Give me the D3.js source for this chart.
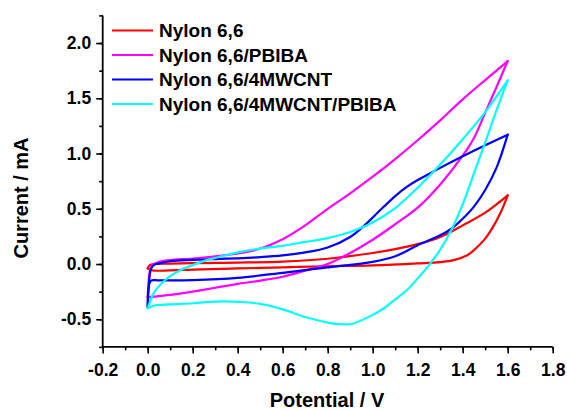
<!DOCTYPE html>
<html>
<head>
<meta charset="utf-8">
<script src="https://cdn.jsdelivr.net/npm/d3@7"></script>
<style>
  html, body { margin: 0; padding: 0; background: #fff; }
  svg { display: block; }
  text { font-family: "Liberation Sans", Arial, sans-serif; font-weight: bold; fill: #000; }
</style>
</head>
<body>
<svg id="chart" width="567" height="410"></svg>
<script>
// ---- Data (Potential V, Current mA) ----
const seriesNames = ["Nylon 6,6", "Nylon 6,6/PBIBA", "Nylon 6,6/4MWCNT", "Nylon 6,6/4MWCNT/PBIBA"];
const seriesColors = ["#ff0000", "#ff00ff", "#0000ff", "#00ffff"];

const xTicks = [-0.2, 0.0, 0.2, 0.4, 0.6, 0.8, 1.0, 1.2, 1.4, 1.6, 1.8];
const yTicks = [-0.5, 0.0, 0.5, 1.0, 1.5, 2.0];

// Nylon 6,6
const nylonUpper = [[0.0,-0.04],[0.008,-0.012],[0.035,0.0],[0.1,0.004],[0.2,0.008],[0.4,0.013],[0.6,0.022],[0.8,0.048],[1.0,0.1],[1.1,0.135],[1.2,0.18],[1.3,0.245],[1.4,0.35],[1.5,0.465],[1.6,0.622]];
const nylonLower = [[0.0,-0.04],[0.02,-0.058],[0.1,-0.057],[0.2,-0.05],[0.4,-0.04],[0.6,-0.03],[0.8,-0.02],[1.0,-0.012],[1.2,0.006],[1.3,0.018],[1.36,0.035],[1.42,0.08],[1.45,0.126],[1.5,0.23],[1.53,0.32],[1.566,0.455],[1.6,0.622]];

// Nylon 6,6/PBIBA
const pbibaUpper = [[0.0,-0.30],[0.003,-0.2],[0.008,-0.08],[0.02,-0.01],[0.05,0.02],[0.1,0.035],[0.2,0.05],[0.3,0.07],[0.4,0.095],[0.5,0.14],[0.6,0.225],[0.7,0.35],[0.8,0.5],[0.9,0.64],[1.0,0.79],[1.1,0.95],[1.2,1.12],[1.3,1.3],[1.4,1.49],[1.5,1.665],[1.6,1.837]];
const pbibaLower = [[0.0,-0.30],[0.03,-0.295],[0.1,-0.28],[0.2,-0.25],[0.3,-0.215],[0.4,-0.18],[0.45,-0.165],[0.5,-0.15],[0.6,-0.115],[0.7,-0.06],[0.8,0.0],[0.9,0.1],[1.0,0.22],[1.1,0.36],[1.2,0.51],[1.3,0.72],[1.4,0.98],[1.45,1.14],[1.5,1.37],[1.55,1.6],[1.6,1.837]];

// Nylon 6,6/4MWCNT
const mwcntUpper = [[0.0,-0.39],[0.003,-0.25],[0.008,-0.12],[0.015,-0.04],[0.03,-0.005],[0.06,0.01],[0.1,0.025],[0.2,0.037],[0.3,0.045],[0.4,0.052],[0.5,0.062],[0.6,0.078],[0.7,0.105],[0.8,0.15],[0.9,0.245],[0.95,0.325],[1.0,0.42],[1.05,0.52],[1.1,0.615],[1.15,0.695],[1.2,0.76],[1.25,0.815],[1.3,0.87],[1.4,0.975],[1.5,1.075],[1.6,1.171]];
const mwcntLower = [[0.0,-0.39],[0.005,-0.2],[0.015,-0.15],[0.05,-0.148],[0.2,-0.145],[0.4,-0.125],[0.6,-0.08],[0.8,-0.03],[1.0,0.02],[1.1,0.07],[1.2,0.17],[1.3,0.26],[1.35,0.32],[1.4,0.41],[1.45,0.52],[1.5,0.67],[1.55,0.87],[1.6,1.171]];

// Nylon 6,6/4MWCNT/PBIBA
const mwcntPbibaUpper = [[0.0,-0.40],[0.01,-0.34],[0.025,-0.27],[0.05,-0.2],[0.077,-0.147],[0.1,-0.11],[0.144,-0.056],[0.2,-0.01],[0.262,0.035],[0.3,0.055],[0.4,0.105],[0.5,0.14],[0.6,0.165],[0.7,0.2],[0.8,0.235],[0.9,0.29],[1.0,0.375],[1.1,0.505],[1.15,0.595],[1.2,0.69],[1.3,0.9],[1.4,1.13],[1.5,1.375],[1.6,1.662]];
const mwcntPbibaLower = [[0.0,-0.40],[0.03,-0.375],[0.1,-0.365],[0.2,-0.355],[0.3,-0.34],[0.35,-0.338],[0.4,-0.342],[0.5,-0.36],[0.6,-0.41],[0.7,-0.48],[0.8,-0.53],[0.87,-0.545],[0.91,-0.54],[1.0,-0.46],[1.05,-0.4],[1.1,-0.32],[1.15,-0.24],[1.2,-0.13],[1.25,-0.01],[1.3,0.13],[1.35,0.31],[1.4,0.54],[1.45,0.82],[1.5,1.1],[1.55,1.39],[1.6,1.662]];

const seriesBranches = [
  [nylonUpper, nylonLower],
  [pbibaUpper, pbibaLower],
  [mwcntUpper, mwcntLower],
  [mwcntPbibaUpper, mwcntPbibaLower]
];

// ---- Layout ----
const svg = d3.select("#chart");
const x = d3.scaleLinear().domain([-0.2, 1.8]).range([102.7, 552.7]);
const y = d3.scaleLinear().domain([-0.75, 2.25]).range([346.9, 15.4]);

const fmt = d => d.toFixed(1);

// curves
const line = d3.line().x(d => x(d[0])).y(d => y(d[1])).curve(d3.curveCatmullRom.alpha(0.5));
const plot = svg.append("g");
seriesBranches.forEach((branches, i) => {
  branches.forEach(b => {
    plot.append("path")
      .attr("d", line(b))
      .attr("fill", "none")
      .attr("stroke", seriesColors[i])
      .attr("stroke-width", 2.2)
      .attr("stroke-linejoin", "round")
      .attr("stroke-linecap", "round");
  });
});

// axes
const xAxisY = y(-0.75);
const yAxisX = x(-0.2);

const xMinor = d3.range(-0.2, 1.8001, 0.1);
const yMinor = d3.range(-0.75, 2.2501, 0.25);

const gxMinor = svg.append("g").attr("transform", `translate(0,${xAxisY})`)
  .call(d3.axisBottom(x).tickValues(xMinor).tickSize(3.5).tickFormat(""));
const gyMinor = svg.append("g").attr("transform", `translate(${yAxisX},0)`)
  .call(d3.axisLeft(y).tickValues(yMinor).tickSize(3.5).tickFormat(""));

const gx = svg.append("g").attr("transform", `translate(0,${xAxisY})`)
  .call(d3.axisBottom(x).tickValues(xTicks).tickSize(6.5).tickPadding(10).tickFormat(fmt));
const gy = svg.append("g").attr("transform", `translate(${yAxisX},0)`)
  .call(d3.axisLeft(y).tickValues(yTicks).tickSize(6.5).tickPadding(5).tickFormat(fmt));

[gx, gy, gxMinor, gyMinor].forEach(g => {
  g.select(".domain").attr("stroke", "#000").attr("stroke-width", 1.8);
  g.selectAll(".tick line").attr("stroke", "#000").attr("stroke-width", 1.6);
  g.selectAll(".tick text")
    .style("font-family", '"Liberation Sans", Arial, sans-serif')
    .style("font-weight", "bold")
    .style("font-size", "17.5px")
    .attr("fill", "#000");
});
gx.select(".domain").attr("d", `M${x(-0.2)},0H${x(1.8)}`);
gxMinor.select(".domain").remove();
gy.select(".domain").attr("d", `M0,${y(2.25)}V${y(-0.75)}`);
gyMinor.select(".domain").remove();

// axis titles
svg.append("text")
  .attr("x", 327).attr("y", 407)
  .attr("text-anchor", "middle")
  .style("font-size", "20px")
  .text("Potential / V");

svg.append("text")
  .attr("transform", "translate(28,198) rotate(-90)")
  .attr("text-anchor", "middle")
  .style("font-size", "20px")
  .text("Current / mA");

// legend
const legend = svg.append("g");
seriesNames.forEach((name, i) => {
  const ly = 30.5 + i * 24.5;
  legend.append("line")
    .attr("x1", 112).attr("x2", 153)
    .attr("y1", ly).attr("y2", ly)
    .attr("stroke", seriesColors[i]).attr("stroke-width", 2.2);
  legend.append("text")
    .attr("x", 159).attr("y", ly + 6.6)
    .style("font-size", "19px")
    .text(name);
});
</script>
</body>
</html>
